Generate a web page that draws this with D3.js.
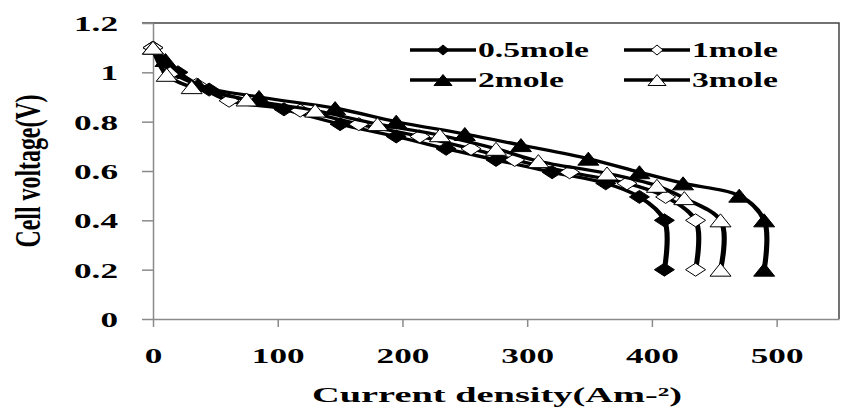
<!doctype html>
<html>
<head>
<meta charset="utf-8">
<style>
  body { margin: 0; background: #fff; }
  text { font-family: "Liberation Serif", "DejaVu Serif", serif; font-weight: bold; fill: #000; }
</style>
</head>
<body>
<script src="https://d3js.org/d3.v7.min.js"></script>
<script>

// values
var current05 = [0, 20, 45, 105, 150, 195, 235, 275, 320, 363, 390, 410, 410];
var voltage05 = [1.1, 1.0, 0.93, 0.85, 0.79, 0.74, 0.69, 0.645, 0.595, 0.55, 0.495, 0.4, 0.2];

var current1 = [0, 15, 35, 61, 118, 165, 214, 255, 290, 334, 380, 411, 435, 435];
var voltage1 = [1.1, 1.0, 0.95, 0.885, 0.845, 0.79, 0.74, 0.69, 0.645, 0.595, 0.55, 0.495, 0.4, 0.2];

var current2 = [0, 10, 36, 85, 146, 195, 250, 295, 349, 390, 425, 470, 490, 490];
var voltage2 = [1.1, 1.05, 0.95, 0.9, 0.855, 0.8, 0.75, 0.705, 0.65, 0.595, 0.55, 0.5, 0.4, 0.2];

var current3 = [0, 11, 31, 75, 130, 180, 230, 275, 309, 364, 404, 426, 455, 455];
var voltage3 = [1.1, 0.99, 0.94, 0.89, 0.845, 0.79, 0.745, 0.69, 0.64, 0.59, 0.54, 0.49, 0.4, 0.2];

var seriesNames = ["0.5mole", "1mole", "2mole", "3mole"];
var xTicks = [0, 100, 200, 300, 400, 500];
var yTicks = [0, 0.2, 0.4, 0.6, 0.8, 1, 1.2];

var series = [
  {name: seriesNames[0], x: current05, y: voltage05, shape: "diamond", filled: true},
  {name: seriesNames[1], x: current1, y: voltage1, shape: "diamond", filled: false},
  {name: seriesNames[2], x: current2, y: voltage2, shape: "triangle", filled: true},
  {name: seriesNames[3], x: current3, y: voltage3, shape: "triangle", filled: false}
];

var sx = 1.6; // the picture is stretched sideways, so is the text

var svg = d3.select("body").append("svg")
    .attr("width", 841)
    .attr("height", 411);

var plotLeft = 153, plotRight = 839, plotTop = 23, plotBottom = 319;

var x = d3.scaleLinear().domain([0, 550]).range([plotLeft, plotRight]);
var y = d3.scaleLinear().domain([0, 1.2]).range([plotBottom, plotTop]);
// same x scale but for drawing inside a group stretched by sx
var xs = d3.scaleLinear().domain([0, 550]).range([plotLeft / sx, plotRight / sx]);

// frame top + right
svg.append("path")
    .attr("d", "M" + (plotLeft - 11) + "," + plotTop + "H" + plotRight + "V" + plotBottom)
    .attr("fill", "none")
    .attr("stroke", "#444")
    .attr("stroke-width", 1.5);

// axes
var yAxis = svg.append("g")
    .attr("transform", "translate(" + plotLeft + ",0)")
    .call(d3.axisLeft(y).tickValues(yTicks).tickSize(11).tickSizeOuter(0)
      .tickFormat(function(d) { return String(+d.toFixed(1)); }));

var xAxis = svg.append("g")
    .attr("transform", "translate(0," + plotBottom + ")")
    .call(d3.axisBottom(x).tickValues(xTicks).tickSize(8).tickSizeOuter(0));

[yAxis, xAxis].forEach(function(a) {
  a.attr("font-family", null).attr("font-size", null);
  a.selectAll("path, line").attr("stroke", "#8a8a8a").attr("stroke-width", 1.5);
  a.selectAll("text").style("font-size", "22px");
});

yAxis.selectAll("text")
    .attr("x", null)
    .attr("dy", "0.34em")
    .attr("text-anchor", "end")
    .attr("transform", "translate(-35,0) scale(" + sx + ",1)");

xAxis.selectAll("text")
    .attr("y", null)
    .attr("dy", null)
    .attr("text-anchor", "middle")
    .attr("transform", "translate(0,44) scale(" + sx + ",1)");

// markers
function markerPath(shape, w, h) {
  if (shape == "diamond")
    return "M" + (-w / 2) + ",0L0," + (-h / 2) + "L" + (w / 2) + ",0L0," + (h / 2) + "Z";
  return "M0," + (-h / 2) + "L" + (w / 2) + "," + (h / 2) + "L" + (-w / 2) + "," + (h / 2) + "Z";
}

var line = d3.line()
    .x(function(d) { return xs(d[0]); })
    .y(function(d) { return y(d[1]); })
    .curve(d3.curveCatmullRom.alpha(0.5));

series.forEach(function(s) {
  var pts = s.x.map(function(v, i) { return [v, s.y[i]]; });
  var g = svg.append("g");
  g.append("g")
      .attr("transform", "scale(" + sx + ",1)")
    .append("path")
      .datum(pts)
      .attr("fill", "none")
      .attr("stroke", "#000")
      .attr("stroke-width", 3.2)
      .attr("stroke-linejoin", "round")
      .attr("d", line);
  g.selectAll(".pt")
      .data(pts)
    .enter().append("path")
      .attr("transform", function(d) { return "translate(" + x(d[0]) + "," + y(d[1]) + ")"; })
      .attr("d", s.shape == "diamond" ? markerPath("diamond", 20, 13) : markerPath("triangle", 21, 13))
      .attr("fill", s.filled ? "#000" : "#fff")
      .attr("stroke", "#000")
      .attr("stroke-width", 1);
});

// legend
var legendPos = [[410, 50], [624, 50], [410, 80], [624, 80]];
series.forEach(function(s, i) {
  var p = legendPos[i];
  var lg = svg.append("g").attr("transform", "translate(" + p[0] + "," + p[1] + ")");
  lg.append("line")
      .attr("x1", 0).attr("x2", 66)
      .attr("stroke", "#000")
      .attr("stroke-width", 3.5);
  lg.append("path")
      .attr("transform", "translate(33,0)")
      .attr("d", s.shape == "diamond" ? markerPath("diamond", 12, 10) : markerPath("triangle", 18, 11))
      .attr("fill", s.filled ? "#000" : "#fff")
      .attr("stroke", "#000")
      .attr("stroke-width", 1);
  lg.append("text")
      .attr("transform", "translate(68,0) scale(" + sx + ",1)")
      .attr("dy", "0.34em")
      .style("font-size", "21px")
      .text(s.name);
});

// axis titles
svg.append("text")
    .attr("transform", "translate(497,402) scale(" + sx + ",1)")
    .attr("text-anchor", "middle")
    .attr("textLength", 370 / sx)
    .attr("lengthAdjust", "spacingAndGlyphs")
    .style("font-size", "22px")
    .text("Current density(Am-²)");

svg.append("text")
    .attr("transform", "translate(29,171) scale(" + sx + ",1) rotate(-90)")
    .attr("text-anchor", "middle")
    .attr("dy", "0.3em")
    .attr("textLength", 153)
    .attr("lengthAdjust", "spacingAndGlyphs")
    .style("font-size", "23px")
    .text("Cell voltage(V)");

</script>
</body>
</html>
